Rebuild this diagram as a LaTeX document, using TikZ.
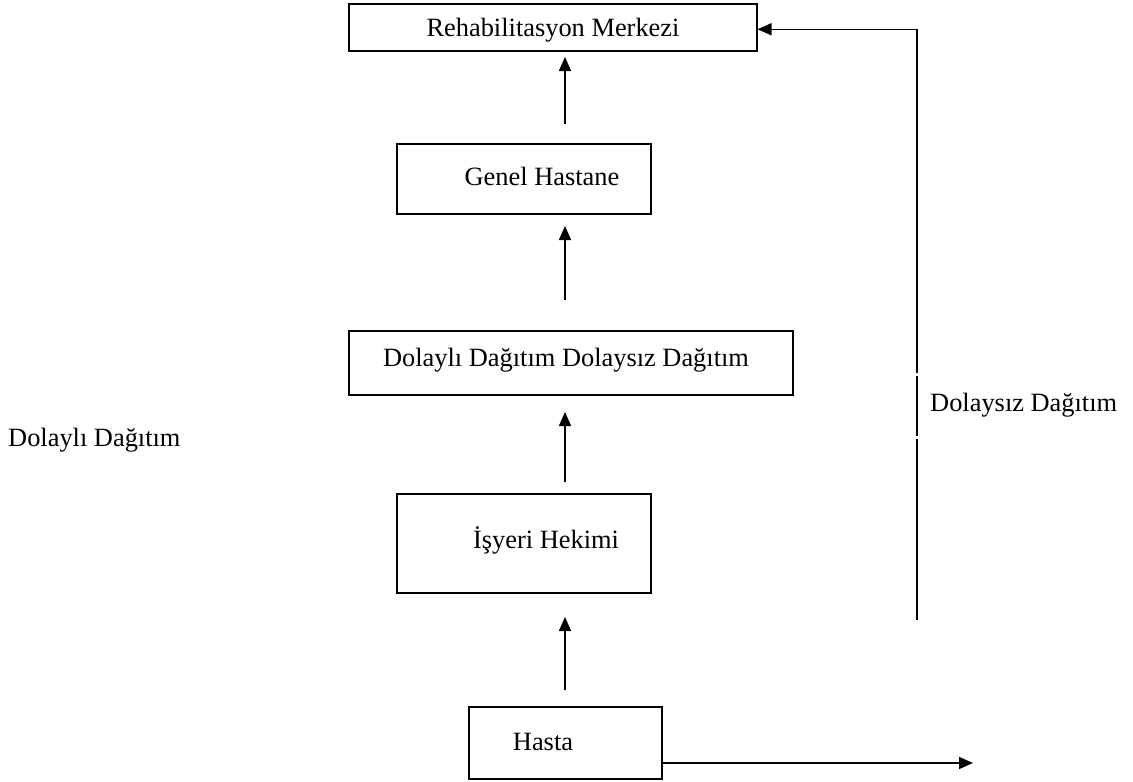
\documentclass[tikz,border=0pt]{standalone}
\usepackage{fontspec}
\setmainfont{Liberation Serif}
\usetikzlibrary{arrows.meta,calc}
\begin{document}
\begin{tikzpicture}[x=1pt,y=-1pt,
  box/.style={draw,line width=1.5pt,inner sep=0pt,anchor=north west},
  lbl/.style={inner sep=0pt,font=\fontsize{26.4}{30}\selectfont},
  link/.style={line width=1.5pt},
  arr/.style={link,-{Triangle[length=14pt,width=12pt]}}]
\useasboundingbox (0,0) rectangle (1133,782);

% boxes
\node[box,minimum width=408pt,minimum height=47pt] (rehab) at (348,3) {};
\node[box,minimum width=254pt,minimum height=70pt] (genel) at (396,143) {};
\node[box,minimum width=444pt,minimum height=64pt] (dagitim) at (348,330) {};
\node[box,minimum width=254pt,minimum height=99pt] (isyeri) at (396,493) {};
\node[box,minimum width=193pt,minimum height=72pt] (hasta) at (468,706) {};

% box texts
\node[lbl] (trehab) at (553,30) {Rehabilitasyon Merkezi};
\node[lbl] (tgenel) at (542,176) {Genel Hastane};
\node[lbl] (tdagitim) at (566,360) {Dolaylı Dağıtım Dolaysız Dağıtım};
\node[lbl] (tisyeri) at (546,540) {İşyeri Hekimi};
\node[lbl] (thasta) at (543,742) {Hasta};

% side labels
\node[lbl,anchor=west] (dolayli) at (8,440) {Dolaylı Dağıtım};
\node[lbl,anchor=west] (dolaysiz) at (930,405) {Dolaysız Dağıtım};

% upward flow
\coordinate (col) at (565,0);
\draw[arr] (col |- 0,690) -- (col |- 0,617);
\draw[arr] (col |- 0,482) -- (col |- 0,412);
\draw[arr] (col |- 0,300) -- (col |- 0,226);
\draw[arr] (col |- 0,124) -- (col |- 0,57);

% direct route on the right
\coordinate (r1) at (917,620);
\coordinate (r2) at (917,437);
\coordinate (r3) at (917,374);
\draw[link] (r1) -- ($(r2)+(0,2)$);
\draw[link] ($(r2)+(0,-1)$) -- ($(r3)+(0,2)$);
\draw[arr] ($(r3)+(0,-1)$) |- ($(rehab.east)+(0,2)$);

% outgoing arrow from patient
\coordinate (out) at (973,763);
\draw[arr] (hasta.east |- out) -- (out);
\end{tikzpicture}
\end{document}
